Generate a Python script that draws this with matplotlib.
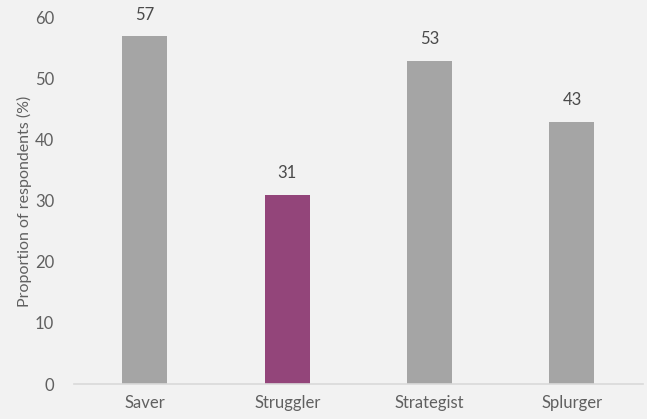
import matplotlib.pyplot as plt

categories = ["Saver", "Struggler", "Strategist", "Splurger"]
values = [57, 31, 53, 43]
colors = ["#a5a5a5", "#93457a", "#a5a5a5", "#a5a5a5"]

plt.rcParams["font.family"] = ["Lato", "DejaVu Sans"]

fig = plt.figure(figsize=(6.47, 4.19), dpi=100, facecolor="#f2f2f2")
ax = fig.add_axes([0.114, 0.0835, 0.88, 0.874])
ax.set_facecolor("#f2f2f2")

x = range(len(categories))
bars = ax.bar(x, values, width=0.316, color=colors)
for xi, v in zip(x, values):
    ax.text(xi, v + 2.2, str(v), ha="center", va="bottom", fontsize=12, color="#4a4a4a")

ax.set_xlim(-0.5, 3.5)
ax.set_ylim(0, 60)
ax.set_yticks(range(0, 61, 10))
ax.set_xticks(list(x))
ax.set_xticklabels(categories)
ax.tick_params(axis="both", length=0, labelsize=12, colors="#606060")
ax.tick_params(axis="x", pad=8)
ax.tick_params(axis="y", pad=14)
for s in ["top", "right", "left"]:
    ax.spines[s].set_visible(False)
ax.spines["bottom"].set_color("#d9d9d9")
ax.spines["bottom"].set_linewidth(1.2)
ax.set_ylabel("Proportion of respondents (%)", fontsize=11.5, color="#606060", labelpad=2)

fig.savefig("out.png", dpi=100, facecolor=fig.get_facecolor())
